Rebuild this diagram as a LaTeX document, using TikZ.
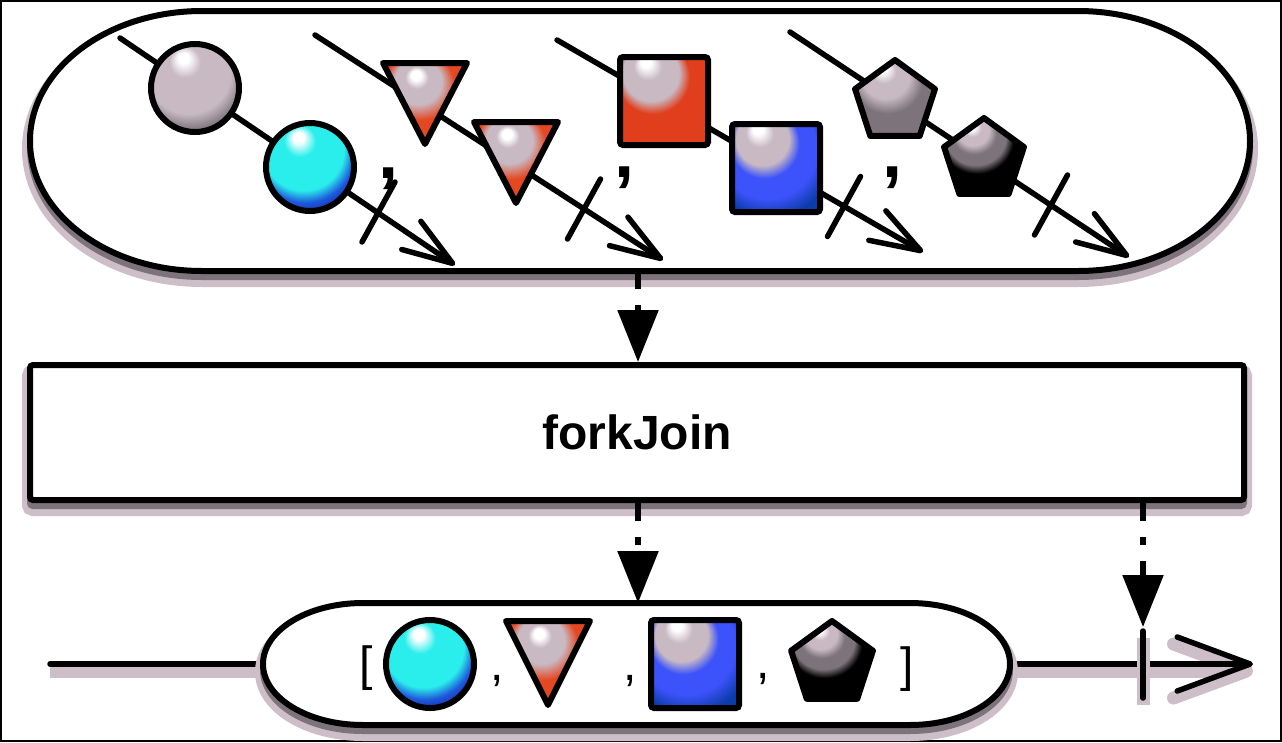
\documentclass[tikz,border=0pt]{standalone}
\usepackage{fontspec}
\setmainfont{Liberation Sans}
\usetikzlibrary{arrows.meta,calc,shapes.geometric}
\definecolor{shl}{RGB}{205,190,200}
\definecolor{shd}{RGB}{125,115,122}
\definecolor{pg}{RGB}{200,185,195}
\definecolor{dg}{RGB}{125,115,122}
\definecolor{cy}{RGB}{42,238,235}
\definecolor{bl}{RGB}{30,90,220}
\definecolor{dbl}{RGB}{20,40,170}
\definecolor{rd}{RGB}{224,62,28}
\definecolor{drd}{RGB}{185,45,20}
\definecolor{sb}{RGB}{60,82,250}
\definecolor{dsb}{RGB}{12,60,170}
\definecolor{tr}{RGB}{228,72,35}
\pgfdeclareradialshading{ballgrey}{\pgfpoint{-7bp}{18bp}}{color(0bp)=(white); color(3bp)=(white); color(9bp)=(pg); color(24bp)=(pg); color(31bp)=(dg); color(50bp)=(dg)}
\pgfdeclareradialshading{ballcyan}{\pgfpoint{-7bp}{18bp}}{color(0bp)=(white); color(3bp)=(white); color(9bp)=(cy); color(23bp)=(cy); color(28bp)=(bl); color(33bp)=(dbl); color(50bp)=(dbl)}
\pgfdeclareradialshading{sqred}{\pgfpoint{-11bp}{23.5bp}}{color(0bp)=(white); color(3bp)=(white); color(8bp)=(pg); color(16bp)=(pg); color(21bp)=(rd); color(38bp)=(rd); color(46bp)=(drd); color(50bp)=(drd)}
\pgfdeclareradialshading{sqblue}{\pgfpoint{-11bp}{23.5bp}}{color(0bp)=(white); color(3bp)=(white); color(8bp)=(pg); color(15bp)=(pg); color(20bp)=(sb); color(28bp)=(sb); color(35bp)=(dsb); color(50bp)=(dsb)}
\pgfdeclareradialshading{trigrad}{\pgfpoint{-5.7bp}{18.6bp}}{color(0bp)=(white); color(3bp)=(white); color(7bp)=(pg); color(14bp)=(pg); color(21bp)=(tr); color(50bp)=(tr)}
\pgfdeclareradialshading{pentgrey}{\pgfpoint{-8.5bp}{21bp}}{color(0bp)=(white); color(3bp)=(white); color(8bp)=(pg); color(15bp)=(pg); color(22bp)=(dg); color(50bp)=(dg)}
\pgfdeclareradialshading{pentblack}{\pgfpoint{-8.5bp}{21bp}}{color(0bp)=(white); color(2.5bp)=(white); color(6bp)=(pg); color(10bp)=(pg); color(14bp)=(dg); color(19bp)=(dg); color(23bp)=(black); color(50bp)=(black)}
\begin{document}
\begin{tikzpicture}[x=1pt,y=-1pt,
  shadowed/.style={preaction={draw=shl, fill=shl, line width=16pt, transform canvas={yshift=-8pt}},
                   preaction={draw=shd, fill=shd, line width=6pt, transform canvas={yshift=-6pt}}},
  lshadow/.style={preaction={draw=shl, line width=13pt, transform canvas={yshift=-7pt}}},
  pill/.style={draw=black, fill=white, line width=6pt},
  tline/.style={line width=5.5pt, line cap=round, -{Straight Barb[length=50pt,width=34pt,round]}},
  tickmark/.style={line width=5.5pt, line cap=round},
  marble/.style={circle, draw=black, line width=6pt, minimum size=88pt, inner sep=0pt, shade},
  sq/.style={rectangle, draw=black, line width=6pt, minimum size=88pt, inner sep=0pt, rounded corners=3pt, shade},
  pent/.style={regular polygon, regular polygon sides=5, draw=black, line width=6pt, minimum size=84pt, inner sep=0pt, line join=round, shade},
  tri/.style={draw=black, line width=6pt, line join=round, shade, shading=trigrad},
  topcomma/.style={inner sep=0pt, font=\fontsize{72}{80}\selectfont\bfseries},
  botsym/.style={inner sep=0pt, font=\fontsize{48}{56}\selectfont},
  fjbox/.style={draw=black, fill=white, line width=6pt, rounded corners=3pt, minimum width=1214pt, minimum height=135pt, inner sep=0pt, font=\fontsize{48}{56}\selectfont\bfseries},
  darrow/.style={line width=5.5pt, dash pattern=on 18pt off 16pt on 8pt off 16pt, -{Triangle[length=52pt,width=40pt]}}
]
\useasboundingbox (0,0) rectangle (1282,742);
\draw[line width=2pt] (1,1) rectangle (1281,741);

% top pill
\draw[pill, shadowed] (202,11) -- (1078,11) arc[start angle=90, end angle=-90, x radius=172pt, y radius=130pt]
  -- (202,271) arc[start angle=270, end angle=90, x radius=172pt, y radius=130pt] -- cycle;
\coordinate (tpB) at (638,271);

% timelines inside
\coordinate (s1) at (120,38);  \coordinate (e1) at (455,265);
\coordinate (s2) at (315,35);  \coordinate (e2) at (663,260);
\coordinate (s3) at (557,40);  \coordinate (e3) at (923,252);
\coordinate (s4) at (790,32);  \coordinate (e4) at (1129,257);
\draw[tline] (s1) -- (e1);
\draw[tline] (s2) -- (e2);
\draw[tline] (s3) -- (e3);
\draw[tline] (s4) -- (e4);
\coordinate (k1) at (378.5,212);
\coordinate (k2) at (584,209);
\coordinate (k3) at (844,206.5);
\coordinate (k4) at (1051,205);
\foreach \k in {k1,k2,k3,k4}
  \draw[tickmark] ($(\k)+(16.5,-30)$) -- ($(\k)+(-16.5,30)$);

\node[marble, shading=ballgrey] (m1) at (195,88) {};
\node[marble, shading=ballcyan] (m2) at (310,167) {};
\coordinate (m3) at (425,103.5);
\coordinate (m4) at (516,162.5);
\path[tri] ($(m3)+(-42,-40.5)$) -- ($(m3)+(42,-40.5)$) -- ($(m3)+(0,40.5)$) -- cycle;
\path[tri] ($(m4)+(-42,-40.5)$) -- ($(m4)+(42,-40.5)$) -- ($(m4)+(0,40.5)$) -- cycle;
\node[sq, shading=sqred] (m5) at (664,101) {};
\node[sq, shading=sqblue] (m6) at (776,168) {};
\node[pent, shading=pentgrey] (m7) at (895,102) {};
\node[pent, shading=pentblack] (m8) at (984,160) {};

\node[topcomma] (tc1) at (388,179) {,};
\node[topcomma] (tc2) at (624,178) {,};
\node[topcomma] (tc3) at (892,178) {,};

% forkJoin box
\node[fjbox, shadowed] (fj) at (637,432.5) {forkJoin};

% bottom timeline
\coordinate (bpL) at (263,664);
\coordinate (bpR) at (1010,664);
\coordinate (bpT) at (638,603);
\coordinate (tl0) at (50,664);
\coordinate (tlE) at (1253,664);
\coordinate (tk) at (1143,664);
\coordinate (tkA) at (1143,627);
\draw[line width=5.5pt, line cap=round, lshadow] (tl0) -- (bpL);
\draw[line width=5.5pt, lshadow, -{Straight Barb[length=73pt,width=54pt,round]}] (bpR) -- (tlE);
\draw[tickmark, lshadow] ($(tk)+(0,-33)$) -- ($(tk)+(0,34)$);
\draw[pill, shadowed] (363,603) -- (910,603) arc[start angle=90, end angle=-90, x radius=100pt, y radius=61pt]
  -- (363,725) arc[start angle=270, end angle=90, x radius=100pt, y radius=61pt] -- cycle;

\node[botsym] (lb) at (366,668) {[};
\node[marble, shading=ballcyan] (b1) at (430,664) {};
\node[botsym] (c1) at (497,681) {,};
\coordinate (b2) at (548,663);
\path[tri] ($(b2)+(-42,-42)$) -- ($(b2)+(42,-42)$) -- ($(b2)+(0,42)$) -- cycle;
\node[botsym] (c2) at (630,681) {,};
\node[sq, shading=sqblue] (b3) at (695,664) {};
\node[botsym] (c3) at (763,679) {,};
\node[pent, shading=pentblack, minimum size=86pt] (b4) at (832,664) {};
\node[botsym] (rb) at (907,669) {]};

% dashed arrows
\draw[darrow] (tpB) -- (fj.north -| tpB);
\draw[darrow] (fj.south -| bpT) -- (bpT);
\draw[darrow] (fj.south -| tkA) -- (tkA);
\end{tikzpicture}
\end{document}
